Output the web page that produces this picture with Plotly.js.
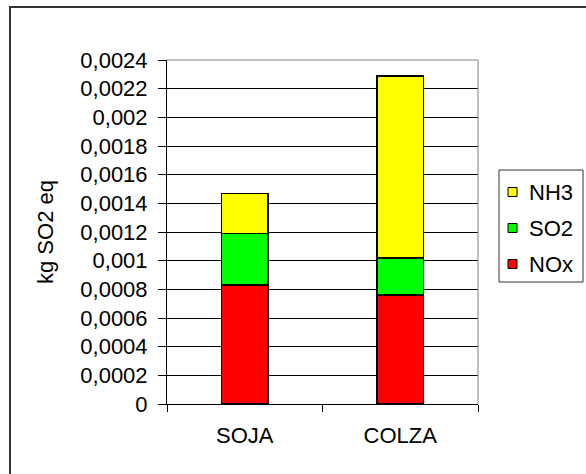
<!DOCTYPE html>
<html>
<head>
<meta charset="utf-8">
<script src="https://cdn.plot.ly/plotly-3.0.1.min.js"></script>
<style>
  html, body { margin: 0; padding: 0; background: #fff; }
  #wrap { position: relative; width: 586px; height: 474px; overflow: hidden; }
  #frame { position: absolute; left: 9px; top: 6px; width: 700px; height: 600px;
           border-top: 2px solid #333; border-left: 2px solid #333; pointer-events: none; }
  #chart { position: absolute; left: 0; top: 0; width: 586px; height: 474px; }
</style>
</head>
<body>
<div id="wrap">
  <div id="chart"></div>
  <div id="frame"></div>
</div>
<script>
// Acidification (kg SO2 eq) per crop, split by substance
const categories = ['SOJA', 'COLZA'];
const noxValues = [0.00083, 0.00076];
const so2Values = [0.00036, 0.00026];
const nh3Values = [0.00028, 0.00127];

const seriesNames = ['NOx', 'SO2', 'NH3'];
const seriesColors = ['#FF0000', '#00FF00', '#FFFF00'];
const seriesValues = [noxValues, so2Values, nh3Values];

const font = { family: 'Liberation Sans, Arial, sans-serif', size: 22, color: '#000' };

// plot area in pixels
const W = 586, H = 474;
const M = { l: 167, r: 108, t: 60, b: 70 };
const PW = W - M.l - M.r, PH = H - M.t - M.b;
const px2x = px => (px - M.l) / PW;
const px2y = py => (H - M.b - py) / PH;

const traces = seriesNames.map((name, i) => ({
  type: 'bar',
  name: name,
  x: categories,
  y: seriesValues[i],
  width: 0.3,
  marker: { color: seriesColors[i], line: { color: '#000', width: 1.5 } },
  hoverinfo: 'x+y+name'
}));

// plot frame (top and right edges)
const shapes = [
  { type: 'line', xref: 'paper', yref: 'paper', x0: 0, x1: 1, y0: 1, y1: 1,
    line: { color: '#808080', width: 1 } },
  { type: 'line', xref: 'paper', yref: 'paper', x0: 1, x1: 1, y0: 0, y1: 1,
    line: { color: '#808080', width: 1 } }
];
const annotations = [];

// legend box, top segment listed first
const legBox = { x0: 499, x1: 583, y0: 170, y1: 282 };
shapes.push({
  type: 'rect', xref: 'paper', yref: 'paper',
  x0: px2x(legBox.x0), x1: px2x(legBox.x1), y0: px2y(legBox.y1), y1: px2y(legBox.y0),
  fillcolor: '#fff', line: { color: '#333', width: 1 }
});
const legOrder = [2, 1, 0];
legOrder.forEach((si, k) => {
  const cy = 192 + k * 36;
  shapes.push({
    type: 'rect', xref: 'paper', yref: 'paper',
    x0: px2x(508), x1: px2x(517), y0: px2y(cy + 4.5), y1: px2y(cy - 4.5),
    fillcolor: seriesColors[si], line: { color: '#000', width: 1 }
  });
  annotations.push({
    xref: 'paper', yref: 'paper', x: px2x(527), y: px2y(cy),
    xanchor: 'left', yanchor: 'middle', showarrow: false,
    text: seriesNames[si], font: font
  });
});

const layout = {
  width: W,
  height: H,
  margin: { l: M.l, r: M.r, t: M.t, b: M.b, autoexpand: false },
  paper_bgcolor: '#fff',
  plot_bgcolor: '#fff',
  barmode: 'stack',
  separators: ', ',
  font: font,
  showlegend: false,
  xaxis: {
    type: 'category',
    tickson: 'boundaries',
    ticks: 'outside', ticklen: 7, tickcolor: '#000', tickwidth: 1,
    showline: true, linecolor: '#000', linewidth: 1,
    showgrid: false,
    tickfont: font,
    ticklabelstandoff: 12
  },
  yaxis: {
    range: [0, 0.0024],
    dtick: 0.0002,
    tick0: 0,
    ticks: 'outside', ticklen: 8, tickcolor: '#000', tickwidth: 1,
    showline: true, linecolor: '#000', linewidth: 1,
    showgrid: true, gridcolor: '#000', gridwidth: 1,
    zeroline: false,
    tickfont: font,
    ticklabelstandoff: 6,
    title: { text: 'kg SO2 eq', font: font, standoff: 20 }
  },
  shapes: shapes,
  annotations: annotations
};

Plotly.newPlot('chart', traces, layout, { displayModeBar: false, staticPlot: true });
</script>
</body>
</html>
